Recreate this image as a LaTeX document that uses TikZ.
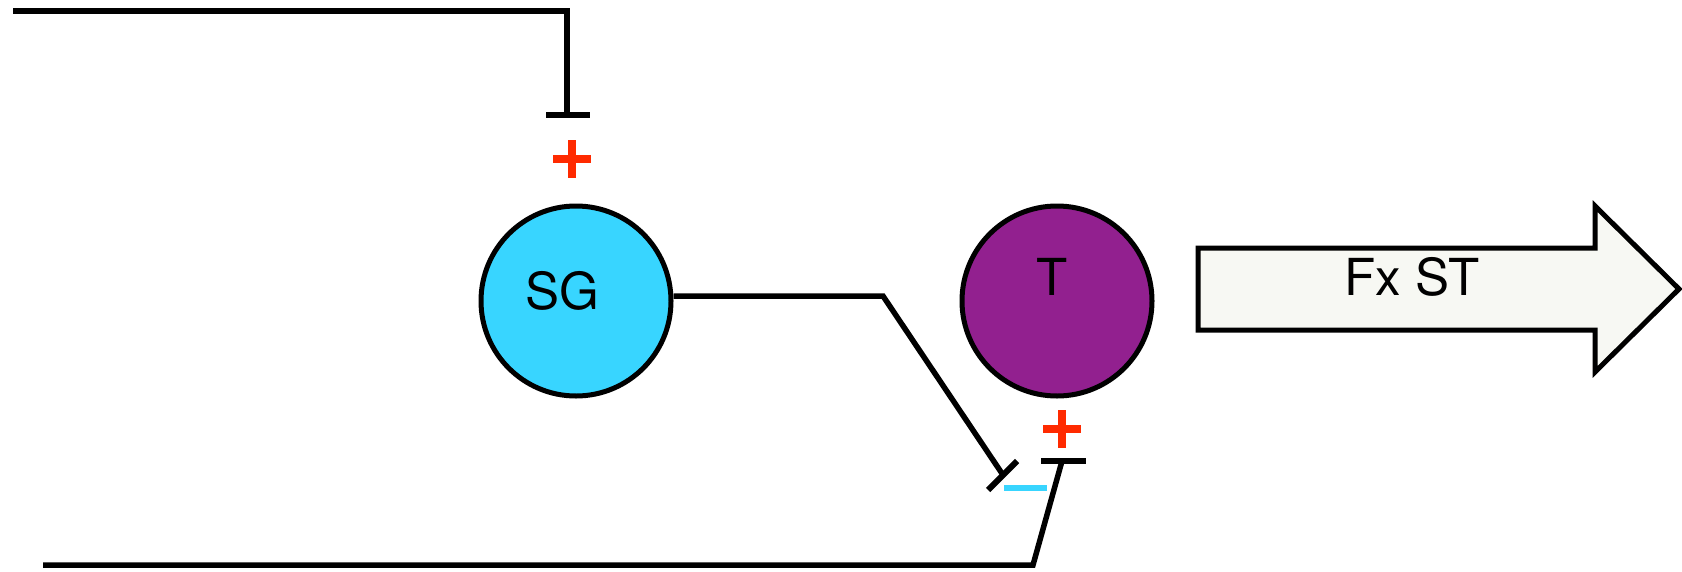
\documentclass[tikz,border=0pt]{standalone}
\usepackage{fontspec}
\setmainfont{TeX Gyre Heros}
\usetikzlibrary{calc}
\definecolor{sgcyan}{HTML}{38D5FF}
\definecolor{tpurple}{HTML}{92208F}
\definecolor{plusred}{HTML}{FF2A00}
\definecolor{arrowfill}{HTML}{F7F8F3}
\tikzset{
  wire/.style={line width=5.5pt, black},
  bar/.style={line width=6pt, black},
  agent/.style={circle, draw=black, line width=5pt, minimum size=190pt, inner sep=0pt},
  lbl/.style={font=\fontsize{51}{55}\selectfont},
  plussign/.style={line width=8.5pt, plusred},
}
\begin{document}
\begin{tikzpicture}[x=1pt,y=-1pt]
\useasboundingbox (0,0) rectangle (1682,571);
% nodes
\node[agent, fill=sgcyan] (sg) at (576,301) {};
\node[lbl] (sgt) at (562,291) {SG};
\node[agent, fill=tpurple] (t) at (1057,301) {};
\node[lbl] (tt) at (1052,277) {T};
% top inhibitory connector
\coordinate (a0) at (13,11);
\coordinate (a1) at (567,11);
\coordinate (a2) at (567,115);
\coordinate (a2l) at (546,115);
\coordinate (a2r) at (590,115);
\draw[wire] (a0) -- (a1) -- (a2);
\draw[bar] (a2l) -- (a2r);
% plus above SG
\coordinate (p1) at (572,159);
\draw[plussign] ($(p1)+(-19,0)$) -- ($(p1)+(19,0)$);
\draw[plussign] ($(p1)+(0,-19)$) -- ($(p1)+(0,19)$);
% SG -> inhibition
\coordinate (b1) at (883,296);
\coordinate (b2) at (1003,475);
\coordinate (b2a) at (988,490);
\coordinate (b2b) at (1017,461);
\draw[wire] (sg.east |- b1) -- (b1) -- (b2);
\draw[bar] (b2a) -- (b2b);
% cyan minus
\coordinate (m1) at (1004,488);
\coordinate (m2) at (1047,488);
\draw[line width=6pt, sgcyan] (m1) -- (m2);
% plus below T
\coordinate (p2) at (1062,429);
\draw[plussign] ($(p2)+(-19,0)$) -- ($(p2)+(19,0)$);
\draw[plussign] ($(p2)+(0,-19)$) -- ($(p2)+(0,19)$);
% bottom connector
\coordinate (c0) at (43,565);
\coordinate (c1) at (1033,565);
\coordinate (c2) at (1062,461);
\coordinate (c2l) at (1041,461);
\coordinate (c2r) at (1086,461);
\draw[wire] (c0) -- (c1) -- (c2);
\draw[bar] (c2l) -- (c2r);
% big arrow
\draw[line width=5pt, fill=arrowfill, line join=miter]
  (1198,248) -- (1595,248) -- (1595,206) -- (1679,289) -- (1595,372) -- (1595,330) -- (1198,330) -- cycle;
\node[lbl] (fx) at (1412,277) {Fx ST};
\end{tikzpicture}
\end{document}
